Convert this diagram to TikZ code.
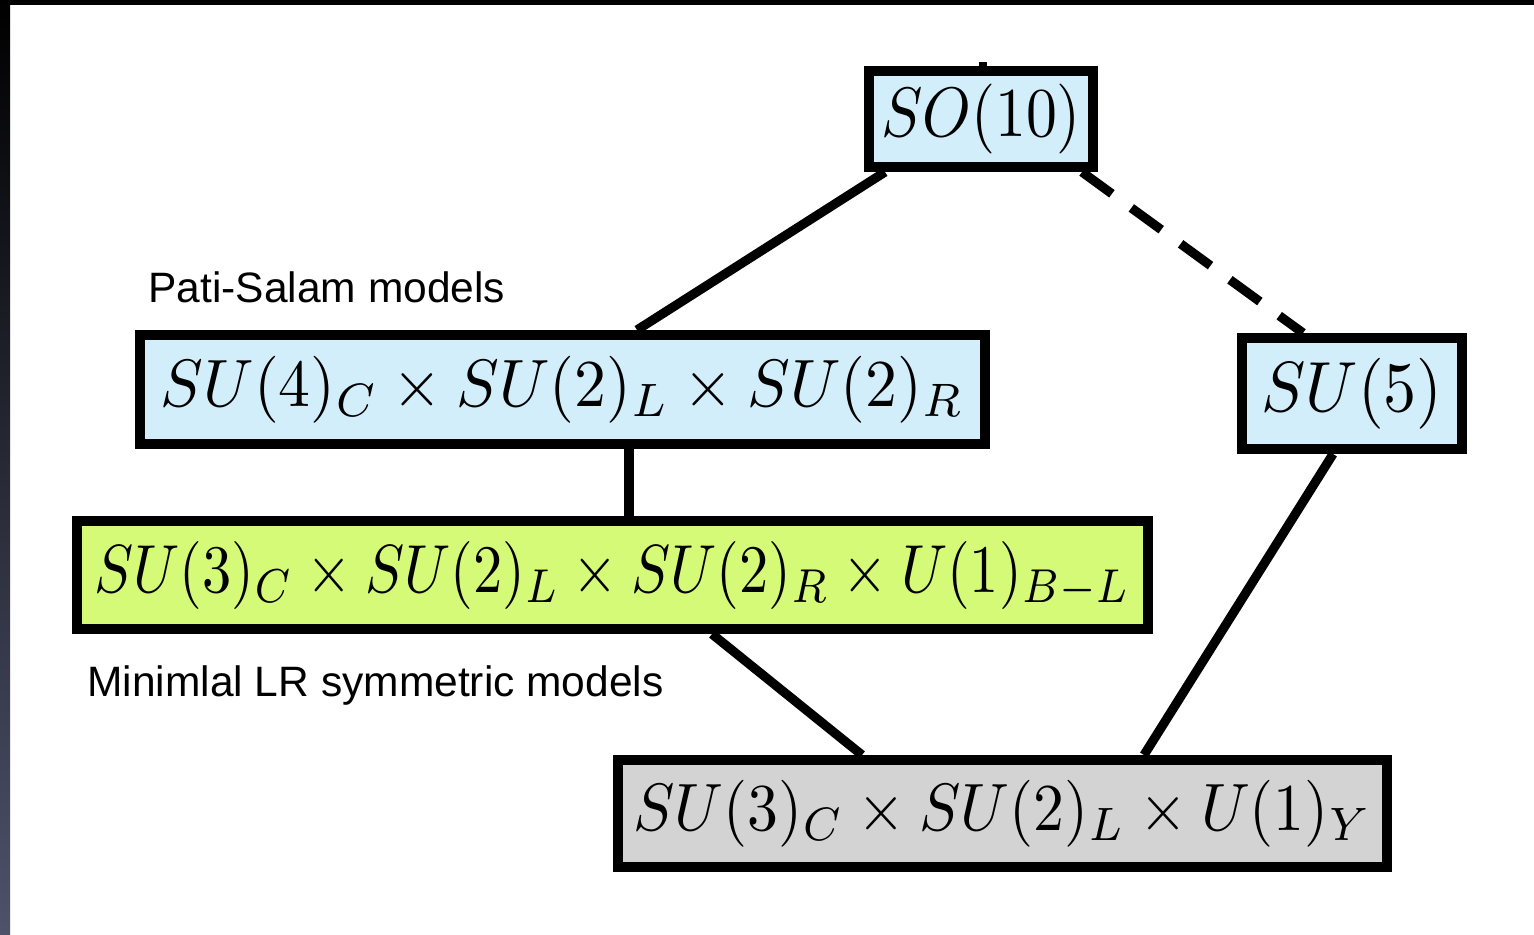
\documentclass[tikz,border=0pt]{standalone}
\usepackage{fontspec}
\newfontfamily\labelfont{Liberation Sans}
\usepackage{graphicx}
\usetikzlibrary{calc}
\definecolor{skybox}{RGB}{210,238,250}
\definecolor{limebox}{RGB}{212,250,120}
\definecolor{greybox}{RGB}{211,211,211}
\definecolor{slate}{RGB}{78,82,106}
\begin{document}
\begin{tikzpicture}[x=0.5pt,y=-0.5pt,
  group/.style={rectangle, draw=black, line width=5pt, inner sep=0pt},
  link/.style={line width=4.6pt},
  note/.style={font=\labelfont\fontsize{21.25}{25}\selectfont, anchor=base west, inner sep=0pt}]
  \useasboundingbox (0,0) rectangle (1534,935);
  % page frame: white sheet, dark top band and shaded left edge
  \fill[white] (0,0) rectangle (1534,935);
  \fill[black] (0,0) rectangle (1534,5);
  \shade[top color=black, bottom color=slate] (0,0) rectangle (10,935);

  % symmetry groups
  \node[group, fill=skybox, minimum width=112pt, minimum height=48pt] (so) at (981,119)
    {\resizebox*{100pt}{35pt}{$SO(10)$}};
  \node[group, fill=skybox, minimum width=422.5pt, minimum height=54.5pt] (ps) at (562.5,389.5)
    {\raisebox{-2pt}{\resizebox*{401.5pt}{33.5pt}{$SU(4)_C\times SU(2)_L\times SU(2)_R$}}};
  \node[group, fill=skybox, minimum width=110pt, minimum height=55.5pt] (su5) at (1352,393.5)
    {\resizebox*{90.5pt}{35.5pt}{$SU(5)$}};
  \node[group, fill=limebox, minimum width=535.5pt, minimum height=54pt] (lr) at (612.5,575)
    {\resizebox*{518pt}{34pt}{$SU(3)_C\times SU(2)_L\times SU(2)_R\times U(1)_{B-L}$}};
  \node[group, fill=greybox, minimum width=384.5pt, minimum height=53.5pt] (sm) at (1002.5,813.5)
    {\resizebox*{369pt}{33.5pt}{$SU(3)_C\times SU(2)_L\times U(1)_Y$}};

  % captions
  \node[note] (pslabel) at (148,303) {Pati-Salam models};
  \node[note] (lrlabel) at (87,696) {Minimlal LR symmetric models};

  % breaking chains
  \draw[link] ($(so.south west)+(21,0)$) -- ($(ps.north west)+(502,0)$);
  \draw[link, dash pattern=on 18.5pt off 12pt] ($(so.south east)+(-16,0)$) -- ($(su5.north west)+(66,0)$);
  \draw[link] ($(ps.south west)+(494,0)$) -- ($(lr.north west)+(557,0)$);
  \draw[link] ($(lr.south west)+(640,0)$) -- ($(sm.north west)+(249,0)$);
  \draw[link] ($(su5.south west)+(96,0)$) -- ($(sm.north west)+(531,0)$);
  \coordinate (stub) at ($(so.north)+(2,-4)$);
  \draw[line width=4pt] ($(so.north)+(2,6)$) -- (stub);
\end{tikzpicture}
\end{document}
